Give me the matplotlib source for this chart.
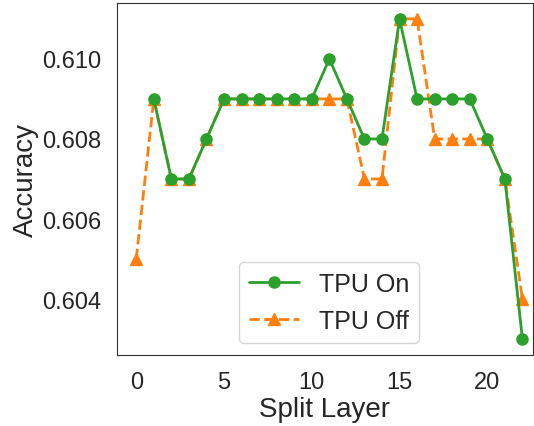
import numpy as np
import matplotlib
matplotlib.use("Agg")
import matplotlib.pyplot as plt
import seaborn as sns

# Genauigkeit je Split-Layer
layers_on = list(range(1, 23))
acc_on = [0.609, 0.607, 0.607, 0.608, 0.609, 0.609, 0.609, 0.609, 0.609, 0.609,
          0.610, 0.609, 0.608, 0.608, 0.611, 0.609, 0.609, 0.609, 0.609, 0.608,
          0.607, 0.603]
layers_off = list(range(0, 23))
acc_off = [0.605, 0.609, 0.607, 0.607, 0.608, 0.609, 0.609, 0.609, 0.609, 0.609,
           0.609, 0.609, 0.609, 0.607, 0.607, 0.611, 0.611, 0.608, 0.608, 0.608,
           0.608, 0.607, 0.604]

sns.set_style("white")
plt.rcParams['font.family'] = ['Liberation Sans', 'DejaVu Sans']

fig = plt.figure(figsize=(5.34, 4.27), dpi=100)
ax = fig.add_axes([0.219, 0.166, 0.779, 0.825])

ax.plot(layers_off, acc_off, '--', marker='^', color='#ff7f0e', linewidth=2,
        markersize=8, label='TPU Off')
ax.plot(layers_on, acc_on, '-', marker='o', color='#2ca02c', linewidth=2,
        markersize=8, label='TPU On')

ax.set_xlim(-1.1, 22.6)
ax.set_ylim(0.6026, 0.6114)
ax.set_xticks([0, 5, 10, 15, 20])
ax.set_yticks([0.604, 0.606, 0.608, 0.610])
ax.set_yticklabels(['0.604', '0.606', '0.608', '0.610'])
ax.tick_params(labelsize=17, pad=8)
ax.set_xlabel('Split Layer', fontsize=20, labelpad=2)
ax.set_ylabel('Accuracy', fontsize=20, labelpad=2)
for s in ax.spines.values():
    s.set_color('#333333')

h, l = ax.get_legend_handles_labels()
ax.legend(h[::-1], l[::-1], fontsize=18, loc='lower center',
          bbox_to_anchor=(0.51, 0.0))

fig.savefig('out.png', dpi=100)
